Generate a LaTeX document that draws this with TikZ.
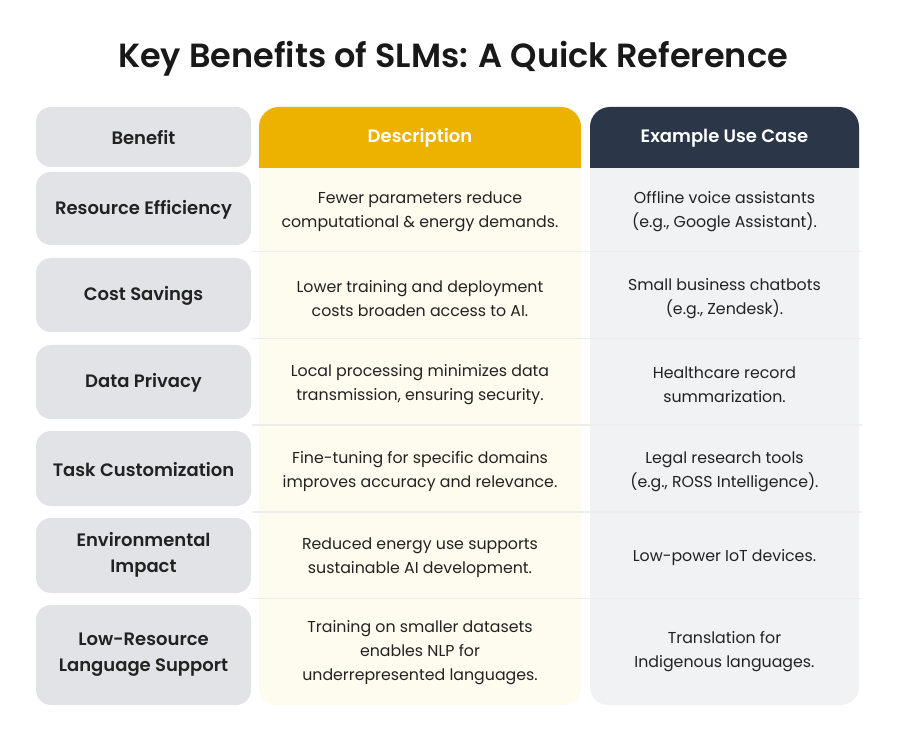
\documentclass[tikz,border=0pt]{standalone}
\usepackage{fontspec}
\setmainfont{Poppins}[BoldFont={Poppins SemiBold}]
\newfontfamily\titlefont{Poppins}[UprightFont={Poppins SemiBold}]
\definecolor{ink}{HTML}{222222}
\definecolor{lgray}{HTML}{E2E3E6}
\definecolor{gold}{HTML}{EDB200}
\definecolor{cream}{HTML}{FEFCEF}
\definecolor{navy}{HTML}{2B3649}
\definecolor{pale}{HTML}{F1F2F4}
\tikzset{
  benefitbox/.style={fill=lgray, rounded corners=15pt},
  bentext/.style={font=\bfseries\fontsize{18}{26}\selectfont, text=ink, align=center},
  bodytext/.style={font=\fontsize{15.8}{24}\selectfont, text=ink, align=center},
  headtext/.style={font=\bfseries\fontsize{18}{22}\selectfont, align=center},
  sepline/.style={draw=black!7, line width=1.5pt}
}
\begin{document}
\begin{tikzpicture}[x=1pt,y=-1pt]
\useasboundingbox (0,0) rectangle (900,735);
\fill[white] (0,0) rectangle (900,735);
% title
\node[font=\titlefont\fontsize{33.5}{38}\selectfont, text=black!90] (title) at (453,59) {Key Benefits of SLMs: A Quick Reference};
% column bodies
\fill[cream, rounded corners=18pt] (259,107) rectangle (581,705);
\fill[pale, rounded corners=18pt] (590,107) rectangle (859,705);
% separators
\foreach \yy in {251.5,338.5,425,512,598.5}
  \draw[sepline] (252,\yy) -- (862,\yy);
% headers
\fill[gold] (259,168) [rounded corners=20pt] -- (259,107) -- (581,107) [sharp corners] -- (581,168) -- cycle;
\fill[navy] (590,168) [rounded corners=20pt] -- (590,107) -- (859,107) [sharp corners] -- (859,168) -- cycle;
% left boxes
\fill[benefitbox] (36,107) rectangle (251,167);
\fill[benefitbox] (36,172) rectangle (251,245);
\fill[benefitbox] (36,258) rectangle (251,332);
\fill[benefitbox] (36,345) rectangle (251,419);
\fill[benefitbox] (36,431) rectangle (251,506);
\fill[benefitbox] (36,518) rectangle (251,593);
\fill[benefitbox] (36,605) rectangle (251,705);
% header texts
\node[headtext, text=ink] (h1) at (143.5,138) {Benefit};
\node[headtext, text=white] (h2) at (420,138) {Description};
\node[headtext, text=white] (h3) at (724.5,138) {Example Use Case};
% row 1
\node[bentext] (b1) at (143.5,210) {Resource Efficiency};
\node[bodytext] (d1) at (420,211.5) {Fewer parameters reduce\\computational \& energy demands.};
\node[bodytext] (e1) at (724.5,211.5) {Offline voice assistants\\(e.g., Google Assistant).};
% row 2
\node[bentext] (b2) at (143.5,296) {Cost Savings};
\node[bodytext] (d2) at (420,298.5) {Lower training and deployment\\costs broaden access to AI.};
\node[bodytext] (e2) at (724.5,298.5) {Small business chatbots\\(e.g., Zendesk).};
% row 3
\node[bentext] (b3) at (143.5,383) {Data Privacy};
\node[bodytext] (d3) at (420,384.5) {Local processing minimizes data\\transmission, ensuring security.};
\node[bodytext] (e3) at (724.5,384.5) {Healthcare record\\summarization.};
% row 4
\node[bentext] (b4) at (143.5,470) {Task Customization};
\node[bodytext] (d4) at (420,471.5) {Fine-tuning for specific domains\\improves accuracy and relevance.};
\node[bodytext] (e4) at (724.5,471.5) {Legal research tools\\(e.g., ROSS Intelligence).};
% row 5
\node[bentext] (b5) at (143.5,555) {Environmental\\Impact};
\node[bodytext] (d5) at (420,558) {Reduced energy use supports\\sustainable AI development.};
\node[bodytext] (e5) at (724.5,558) {Low-power IoT devices.};
% row 6
\node[bentext] (b6) at (143.5,655) {Low-Resource\\Language Support};
\node[bodytext] (d6) at (420,653) {Training on smaller datasets\\enables NLP for\\underrepresented languages.};
\node[bodytext] (e6) at (724.5,651.5) {Translation for\\Indigenous languages.};
\end{tikzpicture}
\end{document}
